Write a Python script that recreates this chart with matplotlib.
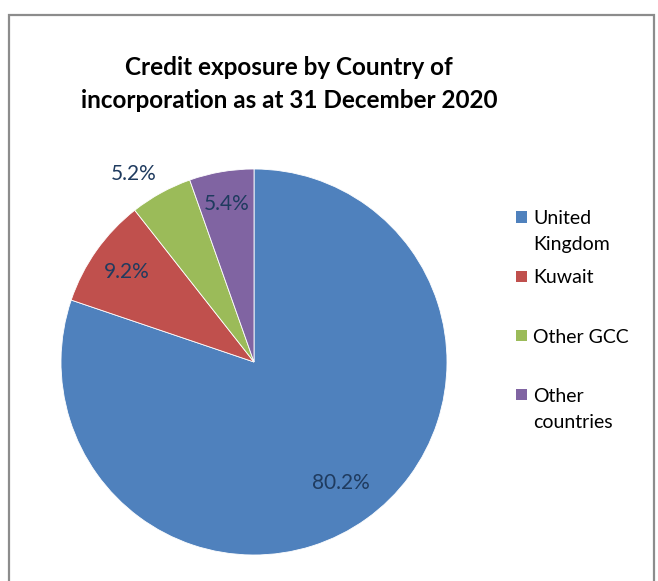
import matplotlib
matplotlib.use("Agg")
import matplotlib.pyplot as plt
from matplotlib.patches import Rectangle
import numpy as np

plt.rcParams['font.family'] = ['Lato', 'DejaVu Sans']

countries = ["United\nKingdom", "Kuwait", "Other GCC", "Other\ncountries"]
shares = [80.2, 9.2, 5.2, 5.4]
colors = ["#4F81BD", "#C0504D", "#9BBB59", "#8064A2"]
label_dist = [0.77, 0.81, 1.05, 0.83]
outside = [False, False, True, False]
title = "Credit exposure by Country of\nincorporation as at 31 December 2020"

W, H = 658, 581
fig = plt.figure(figsize=(W / 100, H / 100), dpi=100)

# outer chart frame (bottom edge is cut off in the original)
fig.patches.append(Rectangle((9 / W, -0.05), 645 / W, 1.05 - 15 / H,
                             transform=fig.transFigure, fill=False,
                             edgecolor="#8c8c8c", linewidth=1.6))

cx, cy, r = 254, 362, 193
ax = fig.add_axes([(cx - r) / W, (H - cy - r) / H, 2 * r / W, 2 * r / H])
wedges, _ = ax.pie(shares, colors=colors, startangle=90, counterclock=False,
                   wedgeprops=dict(linewidth=0.6, edgecolor="white"))
ax.set_xlim(-1, 1)
ax.set_ylim(-1, 1)

for w, v, d, out in zip(wedges, shares, label_dist, outside):
    ang = np.deg2rad((w.theta1 + w.theta2) / 2)
    x, y = d * np.cos(ang), d * np.sin(ang)
    if out:
        ha = "right" if x < 0 else "left"
        va = "bottom" if y > 0 else "top"
    else:
        ha, va = "center", "center"
    ax.text(x, y, f"{v:.1f}%", ha=ha, va=va, fontsize=15, color="#1F3B5F")

fig.text(289 / W, 1 - 84 / H, title, ha="center", va="center",
         fontsize=17.5, fontweight="bold", linespacing=1.55)

# legend, laid out like the Excel one: marker level with first text line
for i, (name, c) in enumerate(zip(countries, colors)):
    yc = 217 + i * 59.3
    fig.patches.append(Rectangle((516 / W, 1 - (yc + 5.5) / H), 11 / W, 11 / H,
                                 transform=fig.transFigure, facecolor=c,
                                 edgecolor="none"))
    for k, line in enumerate(name.split("\n")):
        fig.text(533 / W, 1 - (yc + 7 + 26 * k) / H, line, ha="left",
                 va="baseline", fontsize=14)

fig.savefig("out.png", dpi=100)
